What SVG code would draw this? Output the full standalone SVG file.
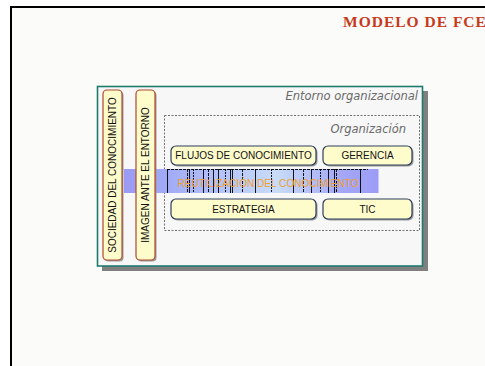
<svg xmlns="http://www.w3.org/2000/svg" width="485" height="366" viewBox="0 0 485 366">
<defs>
<linearGradient id="bandGrad" x1="0" y1="0" x2="1" y2="0">
<stop offset="0" stop-color="#9a9af4"/>
<stop offset="0.2" stop-color="#a4aef6"/>
<stop offset="0.6" stop-color="#c8dcf8"/>
<stop offset="0.85" stop-color="#a4a8f6"/>
<stop offset="1" stop-color="#9c9cf6"/>
</linearGradient>
<style>
.vbox{fill:#fffccc;stroke:#b04a2c;stroke-width:1.2}
.hbox{fill:#fffccc;stroke:#2c3e5c;stroke-width:1.2}
.shadow{fill:#9a9a9a}
.lbl{font-family:"Liberation Sans",Arial,sans-serif;font-size:10px;fill:#111}
.ital{font-family:"DejaVu Sans",Verdana,sans-serif;font-style:italic;font-size:11.5px;fill:#6a6a6a}
.glitch{stroke:#000;stroke-width:0.9}
</style>
</defs>
<rect x="0" y="0" width="485" height="366" fill="#ffffff"/>
<rect x="11" y="7" width="490" height="380" fill="#fbfcfa" stroke="#000" stroke-width="2"/>
<text x="343" y="27" font-family="'Liberation Serif','Times New Roman',serif" font-weight="bold" font-size="15.5" fill="#c8391a" letter-spacing="1">MODELO DE FCE</text>

<g id="entorno">
<rect x="102" y="91" width="326" height="180" fill="#808080"/>
<rect x="97.5" y="86.5" width="325" height="179.5" fill="#f7f7f7" stroke="#1f7a6e" stroke-width="1.6"/>
<text class="ital" x="418" y="100" text-anchor="end">Entorno organizacional</text>
</g>

<g id="organizacion">
<rect x="164.5" y="115.5" width="255" height="115" fill="none" stroke="#707070" stroke-width="1" stroke-dasharray="2,1.5"/>
<text class="ital" x="406" y="133" text-anchor="end">Organización</text>
</g>

<g id="reutilizacion">
<rect x="124" y="169" width="254.5" height="24" fill="url(#bandGrad)"/>
<line class="glitch" x1="167" y1="169.5" x2="368" y2="169.5" stroke-dasharray="3,1"/>
<g class="glitch">
<line x1="167.5" y1="169" x2="167.5" y2="193"/>
<line x1="187.5" y1="169" x2="187.5" y2="193" stroke-dasharray="3,1"/>
<line x1="189.5" y1="169" x2="189.5" y2="193"/>
<line x1="193.5" y1="169" x2="193.5" y2="193" stroke-dasharray="2,1"/>
<line x1="203.5" y1="169" x2="203.5" y2="193"/>
<line x1="208.5" y1="169" x2="208.5" y2="193" stroke-dasharray="3,1"/>
<line x1="213.5" y1="169" x2="213.5" y2="193"/>
<line x1="218.5" y1="169" x2="218.5" y2="193"/>
<line x1="225.5" y1="169" x2="225.5" y2="193" stroke-dasharray="2,1"/>
<line x1="230.5" y1="169" x2="230.5" y2="193"/>
<line x1="232.5" y1="169" x2="232.5" y2="193"/>
<line x1="242.5" y1="169" x2="242.5" y2="193" stroke-dasharray="3,1"/>
<line x1="255.5" y1="169" x2="255.5" y2="193"/>
<line x1="271.5" y1="169" x2="271.5" y2="193" stroke-dasharray="2,1"/>
<line x1="293.5" y1="169" x2="293.5" y2="193"/>
<line x1="303.5" y1="169" x2="303.5" y2="193" stroke-dasharray="3,1"/>
<line x1="311.5" y1="169" x2="311.5" y2="193"/>
<line x1="320.5" y1="169" x2="320.5" y2="193" stroke-dasharray="2,1"/>
<line x1="328.5" y1="169" x2="328.5" y2="193"/>
<line x1="334.5" y1="169" x2="334.5" y2="193"/>
<line x1="336.5" y1="169" x2="336.5" y2="193" stroke-dasharray="3,1"/>
<line x1="360.5" y1="169" x2="360.5" y2="193"/>
</g>
<text x="268" y="186.5" text-anchor="middle" font-family="'Liberation Sans',Arial,sans-serif" font-size="11" fill="#f0a030" textLength="181" lengthAdjust="spacingAndGlyphs">REUTILIZACIÓN DEL CONOCIMIENTO</text>
</g>

<g id="sociedad">
<rect class="shadow" x="104.5" y="91.5" width="19" height="170" rx="4"/>
<rect class="vbox" x="103" y="90" width="19" height="170" rx="4"/>
<text class="lbl" transform="translate(116,175) rotate(-90)" text-anchor="middle">SOCIEDAD DEL CONOCIMIENTO</text>
</g>

<g id="imagen">
<rect class="shadow" x="137.5" y="91.5" width="19" height="170" rx="4"/>
<rect class="vbox" x="136" y="90" width="19" height="170" rx="4"/>
<text class="lbl" transform="translate(149,175) rotate(-90)" text-anchor="middle">IMAGEN ANTE EL ENTORNO</text>
</g>

<g id="flujos">
<rect class="shadow" x="172.5" y="147.5" width="145" height="19" rx="5"/>
<rect class="hbox" x="171" y="146" width="145" height="19" rx="5"/>
<text class="lbl" x="243.5" y="159.3" text-anchor="middle">FLUJOS DE CONOCIMIENTO</text>
</g>

<g id="gerencia">
<rect class="shadow" x="324.5" y="147.5" width="89" height="19" rx="5"/>
<rect class="hbox" x="323" y="146" width="89" height="19" rx="5"/>
<text class="lbl" x="367.5" y="159.3" text-anchor="middle">GERENCIA</text>
</g>

<g id="estrategia">
<rect class="shadow" x="172.5" y="200.5" width="145" height="20" rx="5"/>
<rect class="hbox" x="171" y="199" width="145" height="20" rx="5"/>
<text class="lbl" x="243.5" y="212.8" text-anchor="middle">ESTRATEGIA</text>
</g>

<g id="tic">
<rect class="shadow" x="324.5" y="200.5" width="89" height="20" rx="5"/>
<rect class="hbox" x="323" y="199" width="89" height="20" rx="5"/>
<text class="lbl" x="367.5" y="212.8" text-anchor="middle">TIC</text>
</g>

<g id="connectors"></g>
</svg>
